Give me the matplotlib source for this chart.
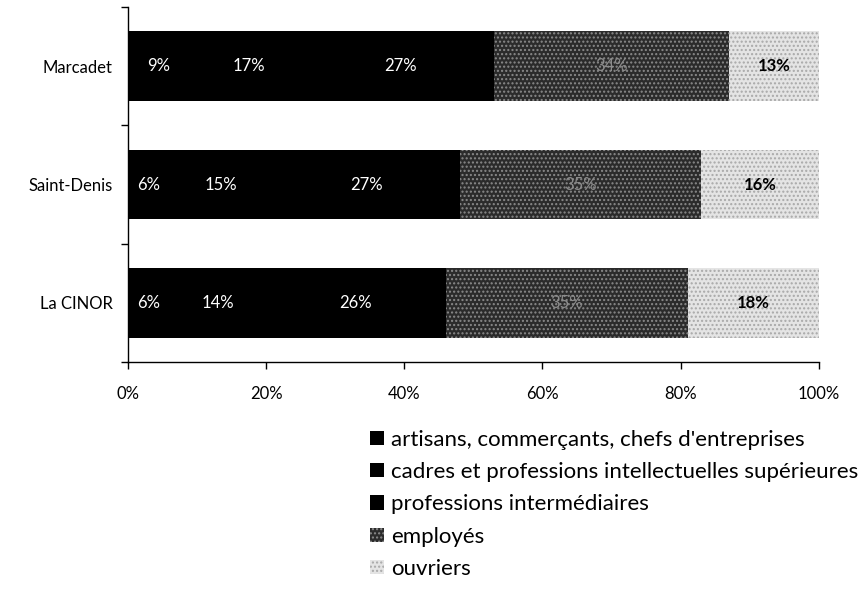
import matplotlib.pyplot as plt
import numpy as np

plt.rcParams['font.family'] = ['Lato', 'DejaVu Sans']
plt.rcParams['hatch.linewidth'] = 1.0

sites = ['Marcadet', 'Saint-Denis', 'La CINOR']
categories = ["artisans, commerçants, chefs d'entreprises",
              "cadres et professions intellectuelles supérieures",
              "professions intermédiaires",
              "employés",
              "ouvriers"]
# shares in % for each site, one list per category
artisans = [9, 6, 6]
cadres = [17, 15, 14]
intermediaires = [27, 27, 26]
employes = [34, 35, 35]
ouvriers = [13, 16, 18]
series = [artisans, cadres, intermediaires, employes, ouvriers]

colors = ['black', 'black', 'black', '#2b2b2b', '#e4e4e4']
hatches = [None, None, None, '....', '....']
hatch_cols = [None, None, None, '#8a8a8a', '#a8a8a8']
label_cols = ['white', 'white', 'white', '#8c8c8c', 'black']
label_weights = ['normal', 'normal', 'normal', 'normal', 'bold']

fig = plt.figure(figsize=(8.61, 5.93), dpi=100)
ax = fig.add_axes([0.1487, 0.3895, 0.8023, 0.5985])

y = np.arange(len(sites))[::-1]
left = np.zeros(len(sites))
handles = []
for i, vals in enumerate(series):
    vals = np.array(vals, dtype=float)
    # last segment runs to the end so each bar fills 100%
    widths = vals if i < 4 else 100 - left
    bars = ax.barh(y, widths, left=left, height=0.59, color=colors[i],
                   edgecolor=hatch_cols[i] or colors[i], linewidth=0,
                   hatch=hatches[i])
    handles.append(bars)
    for yy, l, w, v in zip(y, left, widths, vals):
        ax.text(l + w / 2, yy, f'{int(v)}%', ha='center', va='center',
                color=label_cols[i], fontsize=12, fontweight=label_weights[i])
    left = left + widths

ax.set_xlim(0, 100)
ax.set_ylim(-0.5, 2.5)
ax.set_xticks(np.arange(0, 101, 20))
ax.set_xticklabels([f'{t}%' for t in range(0, 101, 20)], fontsize=12)
ax.set_yticks(y)
ax.set_yticklabels(sites, fontsize=12)
ax.set_yticks([-0.5, 0.5, 1.5, 2.5], minor=True)
ax.tick_params(axis='y', which='major', length=0, pad=11)
ax.tick_params(axis='y', which='minor', length=5, width=1)
ax.tick_params(axis='x', which='major', length=5, width=1, pad=12)
for s in ['top', 'right']:
    ax.spines[s].set_visible(False)
ax.spines['left'].set_linewidth(1)
ax.spines['bottom'].set_linewidth(1)

fig.legend(handles, categories, loc='upper left',
           bbox_to_anchor=(0.43, 0.275), frameon=False, fontsize=16,
           handlelength=0.6, handleheight=0.6, handletextpad=0.35,
           labelspacing=0.55, borderpad=0, borderaxespad=0)

fig.savefig('out.png', dpi=100)
